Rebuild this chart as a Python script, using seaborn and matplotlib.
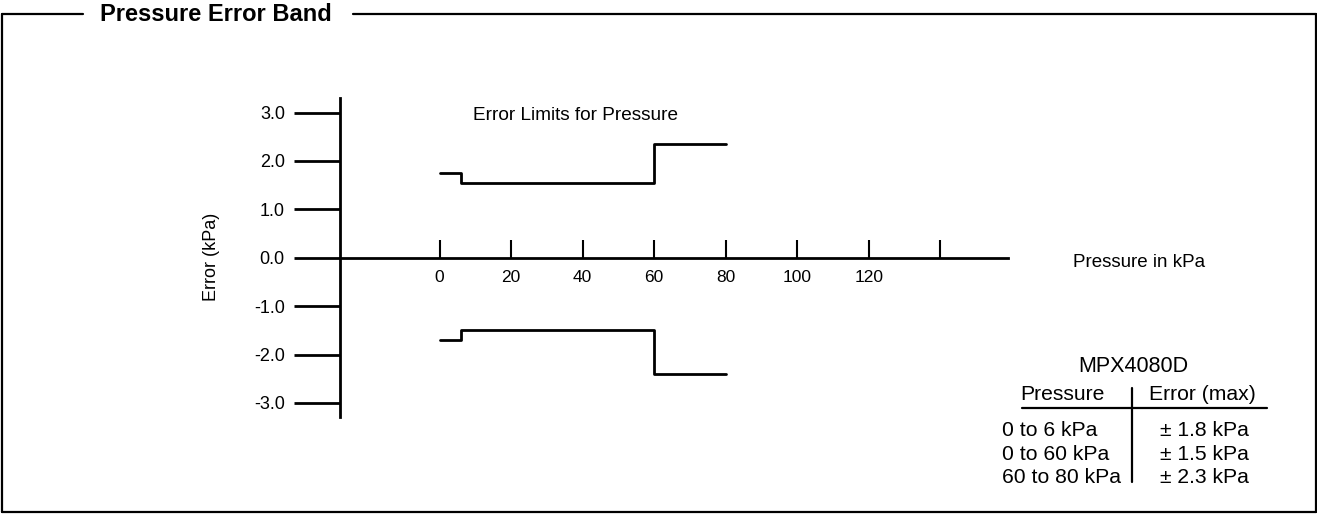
import matplotlib
matplotlib.use("Agg")
import matplotlib.pyplot as plt
from matplotlib.lines import Line2D
import seaborn as sns

# --- DATA ---
pressure_steps = [0, 6, 60, 80]            # kPa, step edges
upper_limit = [1.75, 1.55, 2.35, 2.35]     # kPa, drawn error limit (+)
lower_limit = [-1.7, -1.5, -2.4, -2.4]     # kPa, drawn error limit (-)

xticks = [0, 20, 40, 60, 80, 100, 120, 140]
xtick_labels = ["0", "20", "40", "60", "80", "100", "120", ""]
yticks = [3.0, 2.0, 1.0, 0.0, -1.0, -2.0, -3.0]
ytick_labels = ["3.0", "2.0", "1.0", "0.0", "-1.0", "-2.0", "-3.0"]

table_title = "MPX4080D"
table_header = ["Pressure", "Error (max)"]
table_ranges = ["0 to 6 kPa", "0 to 60 kPa", "60 to 80 kPa"]
table_errors = ["\u00b1 1.8 kPa", "\u00b1 1.5 kPa", "\u00b1 2.3 kPa"]

# --- LAYOUT ---
W, H = 1317, 514
X0_PX, X_SCALE = 439.5, 3.577     # px of 0 kPa, px per kPa
Y0_PX, Y_SCALE = 257.7, 48.4      # px of 0 error, px per kPa error


def fpos(x, y):
    """pixel position (from top-left) -> figure fraction"""
    return x / W, 1 - y / H


sns.set_style("white")
plt.rcParams['font.family'] = ['Liberation Sans', 'DejaVu Sans']
plt.rcParams['text.color'] = 'black'

fig = plt.figure(figsize=(W / 100, H / 100), dpi=100)
ax = fig.add_axes([0, 0, 1, 1])
ax.set_facecolor("none")

sns.lineplot(x=pressure_steps, y=upper_limit, drawstyle="steps-post", color="black",
             lw=2, ax=ax, estimator=None, sort=False)
sns.lineplot(x=pressure_steps, y=lower_limit, drawstyle="steps-post", color="black",
             lw=2, ax=ax, estimator=None, sort=False)

ax.set_xlim(-X0_PX / X_SCALE, (W - X0_PX) / X_SCALE)
ax.set_ylim(-(H - Y0_PX) / Y_SCALE, Y0_PX / Y_SCALE)

y_axis_x = -27.7
ax.spines["top"].set_visible(False)
ax.spines["right"].set_visible(False)
ax.spines["left"].set_position(("data", y_axis_x))
ax.spines["left"].set_bounds(-3.3, 3.3)
ax.spines["bottom"].set_position(("data", 0))
ax.spines["bottom"].set_bounds(y_axis_x, 158.8)
for s in ("left", "bottom"):
    ax.spines[s].set_linewidth(2)
    ax.spines[s].set_color("black")

ax.set_xticks(xticks, labels=xtick_labels)
ax.set_yticks(yticks, labels=ytick_labels)
ax.tick_params(axis="x", bottom=True, direction="in", length=13, width=1.5, pad=8.5,
               labelsize=12.5, colors="black")
ax.tick_params(axis="y", left=True, direction="out", length=33, width=2, pad=7,
               labelsize=13, colors="black")
ax.set_xlabel("")
ax.set_ylabel("")

# annotations
ax.text(9.3, 2.845, "Error Limits for Pressure", fontsize=13.7, va="baseline", ha="left")
ax.text(177.2, -0.186, "Pressure in kPa", fontsize=13.5, va="baseline", ha="left")
fig.text(*fpos(212, 257), "Error (kPa)", rotation=90, fontsize=13,
         ha="center", va="center")

# spec table
fig.text(*fpos(1133, 371.5), table_title, fontsize=15.5, ha="center", va="baseline")
fig.text(*fpos(1062.5, 400), table_header[0], fontsize=15.2, ha="center", va="baseline")
fig.text(*fpos(1202.5, 400), table_header[1], fontsize=15.2, ha="center", va="baseline")
for i, (r, e) in enumerate(zip(table_ranges, table_errors)):
    yb = 436 + i * 23.6
    fig.text(*fpos(1001.5, yb), r, fontsize=15.2, ha="left", va="baseline")
    fig.text(*fpos(1160.5, yb), e, fontsize=15.2, ha="left", va="baseline")
fig.add_artist(Line2D([1021.7 / W, 1266.7 / W], [1 - 407.7 / H] * 2,
                      transform=fig.transFigure, color="black", lw=1.6))
fig.add_artist(Line2D([1132 / W] * 2, [1 - 387.7 / H, 1 - 481.7 / H],
                      transform=fig.transFigure, color="black", lw=1.6))

# frame and title
frame = dict(transform=fig.transFigure, color="black", lw=1.6)
fig.add_artist(Line2D([1.5 / W, 83 / W], [1 - 14 / H] * 2, **frame))
fig.add_artist(Line2D([353 / W, 1315.5 / W], [1 - 14 / H] * 2, **frame))
fig.add_artist(Line2D([1.5 / W] * 2, [1 - 14 / H, 1 - 512 / H], **frame))
fig.add_artist(Line2D([1315.5 / W] * 2, [1 - 14 / H, 1 - 512 / H], **frame))
fig.add_artist(Line2D([1.5 / W, 1315.5 / W], [1 - 512 / H] * 2, **frame))
fig.text(*fpos(100, 20.7), "Pressure Error Band", fontsize=17, fontweight="bold",
         ha="left", va="baseline")

fig.savefig("out.png", dpi=100)
